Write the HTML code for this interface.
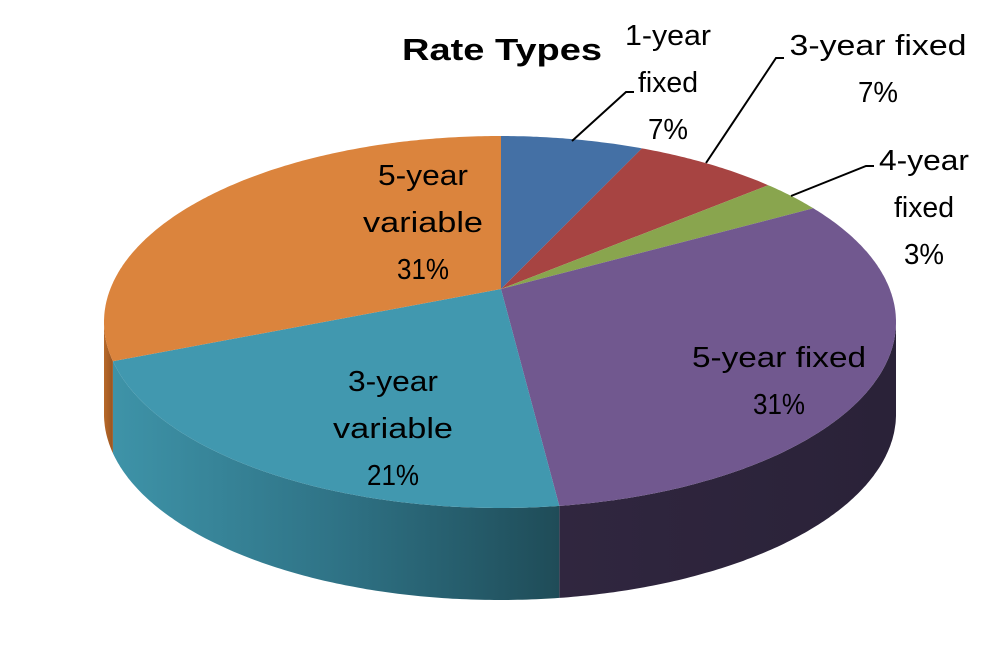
<!DOCTYPE html>
<html><head><meta charset="utf-8">
<style>
html,body{margin:0;padding:0;background:#fff;}
svg{display:block;}
text{font-family:"Liberation Sans",sans-serif;fill:#000;}
</style></head>
<body>
<svg id="chart" width="1002" height="669" viewBox="0 0 1002 669">
<defs>
<linearGradient id="gTeal" x1="0" x2="1" y1="0" y2="0">
<stop offset="0" stop-color="#3E93A8"/><stop offset="0.5" stop-color="#2F7386"/><stop offset="1" stop-color="#1F4C58"/>
</linearGradient>
<linearGradient id="gPurple" x1="0" x2="1" y1="0" y2="0">
<stop offset="0" stop-color="#30263F"/><stop offset="1" stop-color="#2A2238"/>
</linearGradient>
<linearGradient id="gOrange" x1="0" x2="1" y1="0" y2="0">
<stop offset="0" stop-color="#B8692A"/><stop offset="1" stop-color="#9A5520"/>
</linearGradient>
</defs>
<g id="walls"></g>
<g id="tops"></g>
<text x="402" y="60" font-size="31" font-weight="bold" textLength="200" lengthAdjust="spacingAndGlyphs">Rate Types</text>
<g id="labels"></g>
</svg>
<script>
const categories = ["1-year fixed","3-year fixed","4-year fixed","5-year fixed","3-year variable","5-year variable"];
const values = [7, 7, 3, 31, 21, 31];
const percentLabels = ["7%","7%","3%","31%","21%","31%"];

const colors = ["#4470A5","#A74442","#89A54E","#71588F","#4198AF","#DB843D"];
const wallFills = ["#2E4C72","#742F2E","#5E7236","url(#gPurple)","url(#gTeal)","url(#gOrange)"];
const NS = "http://www.w3.org/2000/svg";
const apex = {x:501, y:289};
const ell = {cx:500, cy:322, rx:396, ry:186};
const depth = 92;

function rimPoint(theta){
  const dx = Math.sin(theta)*ell.rx, dy = -Math.cos(theta)*ell.ry;
  const ox = apex.x-ell.cx, oy = apex.y-ell.cy;
  const a = (dx*dx)/(ell.rx*ell.rx) + (dy*dy)/(ell.ry*ell.ry);
  const b = 2*((ox*dx)/(ell.rx*ell.rx) + (oy*dy)/(ell.ry*ell.ry));
  const c = (ox*ox)/(ell.rx*ell.rx) + (oy*oy)/(ell.ry*ell.ry) - 1;
  const t = (-b + Math.sqrt(b*b-4*a*c))/(2*a);
  return {x: apex.x + t*dx, y: apex.y + t*dy};
}
const total = values.reduce((s,v)=>s+v,0);
const walls = document.getElementById('walls');
const tops = document.getElementById('tops');
let cum = 0;
values.forEach((v,i)=>{
  const a0 = cum/total*2*Math.PI; cum += v; const a1 = cum/total*2*Math.PI;
  const n = Math.max(4, Math.ceil((a1-a0)/0.01));
  const pts = [];
  for(let k=0;k<=n;k++) pts.push(rimPoint(a0+(a1-a0)*k/n));
  // wall: points on lower half of ellipse
  const vis = pts.filter(p=>p.y >= ell.cy-0.5);
  if(vis.length>1){
    let d = "M"+vis.map(p=>p.x.toFixed(1)+","+p.y.toFixed(1)).join(" L");
    for(let k=vis.length-1;k>=0;k--) d += " L"+vis[k].x.toFixed(1)+","+(vis[k].y+depth).toFixed(1);
    d += " Z";
    const w = document.createElementNS(NS,'path');
    w.setAttribute('d', d);
    w.setAttribute('fill', wallFills[i]);
    
    
    walls.appendChild(w);
  }
  let d = "M"+apex.x+","+apex.y+" L"+pts.map(p=>p.x.toFixed(1)+","+p.y.toFixed(1)).join(" L")+" Z";
  const s = document.createElementNS(NS,'path');
  s.setAttribute('d', d);
  s.setAttribute('fill', colors[i]);
  
  
  tops.appendChild(s);
});

// labels: [lines, x(center), firstBaseline, lineHeight, widths]
const labelLayout = [
  {lines:["1-year","fixed",null], x:668, y:45, w:[86,60,40]},
  {lines:["3-year fixed",null], x:878, y:55, w:[177,40]},
  {lines:["4-year","fixed",null], x:924, y:170, w:[90,60,40]},
  {lines:["5-year fixed",null], x:779, y:367, w:[174,52]},
  {lines:["3-year","variable",null], x:393, y:391, w:[90,120,52]},
  {lines:["5-year","variable",null], x:423, y:185, w:[90,120,52]}
];
const labels = document.getElementById('labels');
labelLayout.forEach((L,i)=>{
  const g = document.createElementNS(NS,'g');
  
  
  L.lines.forEach((ln,j)=>{
    const t = document.createElementNS(NS,'text');
    t.setAttribute('x', L.x);
    t.setAttribute('y', L.y + j*47);
    t.setAttribute('text-anchor','middle');
    t.setAttribute('font-size','29');
    t.setAttribute('textLength', L.w[j]);
    t.setAttribute('lengthAdjust','spacingAndGlyphs');
    t.textContent = ln === null ? percentLabels[i] : ln;
    g.appendChild(t);
  });
  labels.appendChild(g);
});
// leader lines
const leaders = [
  "M572,141 L626,92 L634,92",
  "M706,163 L776,58 L784,58",
  "M791,196 L866,166 L874,166"
];
leaders.forEach((d,i)=>{
  const p = document.createElementNS(NS,'path');
  p.setAttribute('d', d);
  p.setAttribute('stroke','#000');
  p.setAttribute('stroke-width','2');
  p.setAttribute('fill','none');
  
  
  labels.appendChild(p);
});
</script>
</body></html>
